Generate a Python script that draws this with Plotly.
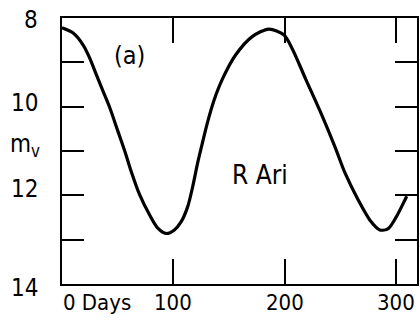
import plotly.graph_objects as go

# Light curve of R Ari (days, visual magnitude)
days = [0, 10, 19, 25, 31, 37, 43, 50, 57, 62, 69.6, 78.6, 86, 93.5, 100.9, 106.9,
        112.8, 117.3, 121.7, 125.5, 130.6, 136.6, 144, 156, 170.8, 185.7, 199.1, 206.5,
        218.5, 233.3, 245, 254.2, 266.1, 276.5, 285.4, 292.9, 300.3, 307.8, 309.5]
mag = [8.22, 8.34, 8.61, 8.91, 9.29, 9.66, 10.03, 10.54, 11.05, 11.45, 11.98, 12.44,
       12.74, 12.86, 12.78, 12.60, 12.26, 11.81, 11.28, 10.88, 10.36, 9.85, 9.38, 8.83,
       8.42, 8.25, 8.38, 8.68, 9.36, 10.19, 10.9, 11.5, 12.11, 12.56, 12.78, 12.75,
       12.48, 12.11, 12.02]

x_ticks = [100, 200, 300]
x_labels = ["0 Days", "100", "200", "300"]
x_label_vals = [0, 100, 200, 300]
y_ticks = [9, 10, 11, 12, 13]
y_label_vals = [8, 10, 12, 14]
y_labels = ["8", "10", "12", "14"]
y_label_shift = [-2, 4, 6, -4]

FONT = "DejaVu Sans Condensed, DejaVu Sans, sans-serif"

fig = go.Figure()
fig.add_trace(go.Scatter(x=days, y=mag, mode="lines",
                         line=dict(color="black", width=3.2, shape="spline", smoothing=0.8),
                         hoverinfo="skip"))

ann = []
for v, t in zip(x_label_vals, x_labels):
    is_first = t.endswith("Days")
    ann.append(dict(x=v, y=0, xref="x", yref="paper", text=t, showarrow=False,
                    xanchor="left" if is_first else "center", yanchor="top",
                    yshift=-4, xshift=-1 if is_first else 0,
                    font=dict(size=22, color="black", family=FONT)))
for v, t, s in zip(y_label_vals, y_labels, y_label_shift):
    ann.append(dict(x=0, y=v, xref="paper", yref="y", text=t, showarrow=False,
                    xanchor="right", yanchor="middle", xshift=-22, yshift=s,
                    font=dict(size=24, color="black", family=FONT)))
ann.append(dict(x=0, y=11, xref="paper", yref="y", text="m<sub>v</sub>", showarrow=False,
                xanchor="right", yanchor="middle", xshift=-20, yshift=6,
                font=dict(size=24, color="black", family=FONT)))
ann.append(dict(x=61, y=8.85, xref="x", yref="y", text="(a)", showarrow=False,
                font=dict(size=25, color="black", family=FONT)))
ann.append(dict(x=178, y=11.55, xref="x", yref="y", text="R Ari", showarrow=False,
                font=dict(size=26, color="black", family=FONT)))

fig.update_layout(
    width=420, height=330,
    margin=dict(l=62, r=1, t=18, b=46),
    paper_bgcolor="white", plot_bgcolor="white",
    showlegend=False,
    annotations=ann,
    xaxis=dict(range=[0, 318.75], tickvals=x_ticks, ticks="inside", ticklen=25, tickwidth=2,
               tickcolor="black", showticklabels=False, showgrid=False, zeroline=False,
               showline=True, linecolor="black", linewidth=2, mirror="ticks"),
    yaxis=dict(range=[14, 8], tickvals=y_ticks, ticks="inside", ticklen=22, tickwidth=2,
               tickcolor="black", showticklabels=False, showgrid=False, zeroline=False,
               showline=True, linecolor="black", linewidth=2, mirror="ticks"),
)

fig.write_html("out.html")
